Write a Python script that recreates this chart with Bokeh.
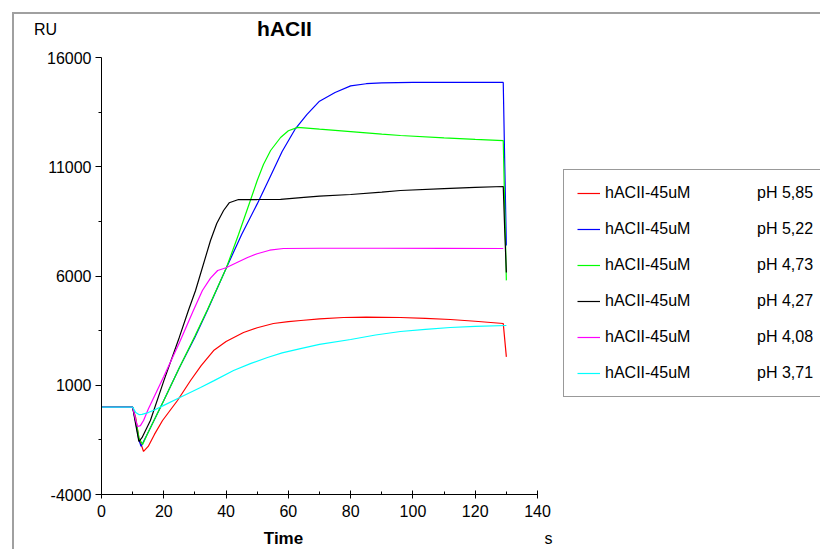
from bokeh.plotting import figure
from bokeh.models import (Range1d, FixedTicker, Legend, LegendItem, Label)
from bokeh.embed import file_html
from bokeh.resources import INLINE

# ---- data (time in s, response in RU) ----
t_red = [0, 10, 11, 12, 13.5, 15, 17, 19.6, 24.4, 28.6, 32, 36, 40, 45.6, 50, 55.2, 60, 64, 70, 77.7, 85, 96, 104, 112, 120, 129, 130]
v_red = [0, 0, -500, -1400, -2030, -1800, -1250, -613, 302, 1217, 1900, 2590, 3000, 3414, 3630, 3826, 3910, 3963, 4040, 4100, 4120, 4100, 4060, 4010, 3930, 3826, 2300]

t_blue = [0, 10, 11, 12, 12.7, 15, 20, 25, 30, 34, 40, 45, 50, 53.6, 58, 62.3, 66, 70, 75, 80, 85, 90, 100, 129, 129.5, 130]
v_blue = [0, 0, -700, -1500, -1800, -1150, 300, 1800, 3200, 4420, 6340, 7900, 9300, 10370, 11700, 12750, 13400, 14000, 14400, 14700, 14800, 14840, 14860, 14860, 11000, 7400]

t_green = [0, 10, 11, 12, 13.2, 15, 20, 25, 30, 34, 40, 44, 47.8, 50, 52, 54.3, 57.5, 60, 63, 70, 80, 90, 96, 110, 120, 129, 129.5, 130]
v_green = [0, 0, -600, -1400, -1710, -1150, 300, 1800, 3250, 4450, 6343, 7900, 9455, 10371, 11100, 11744, 12339, 12650, 12800, 12720, 12610, 12490, 12430, 12320, 12250, 12200, 9000, 5800]

t_black = [0, 10, 11, 12, 13, 15.7, 20, 25, 27.9, 30.2, 35, 37, 39.2, 41, 44, 50, 57.5, 65, 70, 80, 90, 96, 110, 120, 129, 129.5, 130]
v_black = [0, 0, -800, -1575, -1400, -613, 1200, 3200, 4421, 5336, 7625, 8400, 8998, 9350, 9500, 9500, 9510, 9600, 9660, 9730, 9840, 9913, 10000, 10060, 10096, 8000, 6160]

t_mag = [0, 10, 11, 11.6, 12.5, 13.5, 15, 20, 25, 29.5, 32.4, 35, 37.3, 40, 43, 46.9, 50, 54, 58.4, 70, 90, 110, 129]
v_mag = [0, 0, -600, -890, -850, -613, -100, 1400, 2950, 4421, 5336, 5900, 6252, 6380, 6580, 6847, 7020, 7180, 7259, 7270, 7270, 7260, 7259]

t_cyan = [0, 10, 11, 12, 13, 15, 17, 20, 25, 31.8, 36, 42.4, 48, 53.3, 58, 63.9, 70, 80, 88, 96, 104, 112, 120, 130]
v_cyan = [0, 0, -250, -340, -330, -250, -130, 80, 430, 897, 1200, 1675, 2000, 2270, 2480, 2680, 2870, 3094, 3300, 3460, 3560, 3643, 3690, 3735]

series_names = ["hACII-45uM", "hACII-45uM", "hACII-45uM", "hACII-45uM", "hACII-45uM", "hACII-45uM"]
series_ph = ["pH 5,85", "pH 5,22", "pH 4,73", "pH 4,27", "pH 4,08", "pH 3,71"]
series_colors = ["#ff0000", "#0000ff", "#00ff00", "#000000", "#ff00ff", "#00ffff"]

x_ticks = [0, 20, 40, 60, 80, 100, 120, 140]
x_minor = [10, 30, 50, 70, 90, 110, 130]
y_ticks = [-4000, 1000, 6000, 11000, 16000]
y_minor = [-1500, 3500, 8500, 13500]

FONT = "Liberation Sans"

# ---- layout geometry (pixels) ----
W, H = 820, 549
AX_L, AX_R = 101, 537      # pixel columns of t = 0 and t = 140
AX_T, AX_B = 57, 494       # pixel rows of 16000 and -4000
kx = (AX_R - AX_L) / 140.0
ky = (AX_B - AX_T) / 20000.0
x_start = 0 - AX_L / kx
x_end = 0 + (W - AX_L) / kx
y_end = 16000 + AX_T / ky
y_start = -4000 - (H - AX_B) / ky

p = figure(width=W, height=H, output_backend="svg", toolbar_location=None,
           x_range=Range1d(x_start, x_end), y_range=Range1d(y_start, y_end),
           min_border=0)
p.title.visible = False
p.outline_line_color = None
p.grid.visible = False
p.background_fill_color = None
p.border_fill_color = None
p.styles = {"box-shadow": "inset 12px 12px 0 0 #ffffff, inset 14px 14px 0 0 #a0a0a0",
            "background-color": "#ffffff"}

xs = [t_red, t_blue, t_green, t_black, t_mag, t_cyan]
ys = [v_red, v_blue, v_green, v_black, v_mag, v_cyan]
renderers = []
for x, y, c in zip(xs, ys, series_colors):
    renderers.append(p.line(x, y, line_color=c, line_width=1.2))

# axes, drawn at fixed data locations inside the canvas
xa = p.xaxis[0]
xa.fixed_location = -4000
xa.bounds = (0, 140)
xa.ticker = FixedTicker(ticks=x_ticks, minor_ticks=x_minor)
xa.major_tick_in = 4
xa.major_tick_out = 4
xa.minor_tick_in = 3
xa.minor_tick_out = 0
xa.major_label_standoff = 6
ya = p.yaxis[0]
ya.fixed_location = 0
ya.bounds = (-4000, 16000)
ya.ticker = FixedTicker(ticks=y_ticks, minor_ticks=y_minor)
ya.major_label_overrides = {t: str(t) for t in y_ticks}
ya.major_tick_in = 0
ya.major_tick_out = 6
ya.minor_tick_in = 0
ya.minor_tick_out = 3
ya.major_label_standoff = 4
for ax in (xa, ya):
    ax.axis_line_color = "#000000"
    ax.major_tick_line_color = "#000000"
    ax.minor_tick_line_color = "#000000"
    ax.major_label_text_font = FONT
    ax.major_label_text_font_size = "16px"
    ax.major_label_text_color = "#000000"

# legend (screen units measured from the canvas' bottom-left corner)
items = [LegendItem(label=n + "\u00a0" * 15 + ph, renderers=[r])
         for n, ph, r in zip(series_names, series_ph, renderers)]
legend = Legend(items=items, location=(563, H - 397), margin=0, padding=13,
                spacing=16, label_height=20, glyph_height=20, glyph_width=23,
                label_standoff=5, label_text_font=FONT, label_text_font_size="16px",
                label_text_color="#000000", border_line_color="#333333",
                border_line_width=1, background_fill_color="white",
                background_fill_alpha=1.0)
p.add_layout(legend)

# texts
def txt(px, py, s, size, bold=False):
    p.add_layout(Label(x=px, y=H - py, x_units="screen", y_units="screen", text=s,
                       text_font=FONT, text_font_size=size,
                       text_font_style="bold" if bold else "normal",
                       text_color="#000000", text_align="center",
                       text_baseline="middle"))

txt(284, 28, "hACII", "21px", True)
txt(45, 29, "RU", "16px")
txt(283, 538, "Time", "17px", True)
txt(548, 538, "s", "16px")

open("out.html", "w").write(file_html(p, INLINE))
